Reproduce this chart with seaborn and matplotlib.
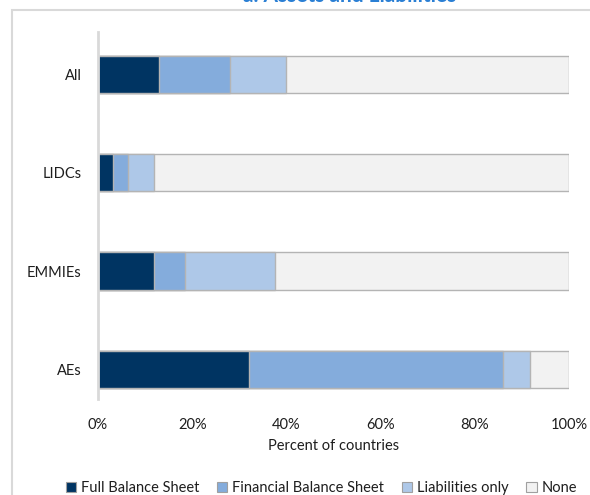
import numpy as np
import pandas as pd
import seaborn as sns
import matplotlib as mpl
import matplotlib.pyplot as plt
import matplotlib.ticker as mticker
from matplotlib.patches import Patch, Rectangle

mpl.use('Agg')

# data (percent of countries)
groups = ['All', 'LIDCs', 'EMMIEs', 'AEs']
full_bs = [13.0, 3.1, 11.8, 32.0]
financial_bs = [15.0, 3.3, 6.7, 54.0]
liabilities_only = [12.0, 5.4, 19.0, 5.7]
none = [60.0, 88.2, 62.5, 8.3]

series_names = ['Full Balance Sheet', 'Financial Balance Sheet', 'Liabilities only', 'None']
colors = ['#003462', '#84acdc', '#aec8e8', '#f2f2f2']

sns.set_theme(style='white')
plt.rcParams['font.family'] = ['Lato', 'DejaVu Sans']

df = pd.DataFrame({'group': groups, 'full': full_bs, 'financial': financial_bs,
                   'liab': liabilities_only, 'none': none})
# cumulative sums so bars can be overlaid largest first
df['c_full'] = df['full']
df['c_fin'] = df['c_full'] + df['financial']
df['c_liab'] = df['c_fin'] + df['liab']
df['c_none'] = df['c_liab'] + df['none']

fig = plt.figure(figsize=(5.9, 4.95), dpi=100)
ax = fig.add_axes([98 / 590, 1 - 399 / 495, 471 / 590, 367 / 495])

for col, color in zip(['c_none', 'c_liab', 'c_fin', 'c_full'], colors[::-1]):
    sns.barplot(data=df, x=col, y='group', orient='h', color=color, width=0.38,
                edgecolor='#b4b4b4', linewidth=1, saturation=1, ax=ax)

txt = '#1e1e1e'
ax.set_xlim(0, 100)
ax.set_ylim(3.3, -0.43)
ax.xaxis.set_major_locator(mticker.MultipleLocator(20))
ax.xaxis.set_major_formatter(mticker.FuncFormatter(lambda x, pos: '{:.0f}%'.format(x)))
ax.tick_params(axis='x', length=0, pad=14, labelsize=10.5, labelcolor=txt)
ax.tick_params(axis='y', length=0, pad=12, labelsize=10.5, labelcolor=txt)
ax.set_xlabel('Percent of countries', fontsize=10.5, color=txt, labelpad=5)
ax.set_ylabel('')

for side in ['top', 'right', 'bottom']:
    ax.spines[side].set_visible(False)
ax.spines['left'].set_color('#d9d9d9')
ax.spines['left'].set_linewidth(2)

handles = [Patch(facecolor=c, edgecolor='#a0a0a0', linewidth=0.8) for c in colors]
fig.legend(handles, series_names, loc='center', bbox_to_anchor=(0.545, 1 - 488 / 495),
           ncol=4, frameon=False, fontsize=10.5, handlelength=0.7, handleheight=0.7,
           handletextpad=0.35, columnspacing=1.2, labelcolor=txt)

# cut-off panel title (only its lower edge shows, as in the reference) and outer chart border
fig.text(350 / 590, 1 - 2.2 / 495, 'a. Assets and Liabilities', ha='center', va='baseline',
         fontsize=15, fontweight='bold', color='#2a7fd4')
fig.patches.append(Rectangle((12 / 590, -0.1), 1.0, 1.1 - 10 / 495, transform=fig.transFigure,
                             fill=False, edgecolor='#d9d9d9', linewidth=1.5))

fig.savefig('out.png', dpi=100)
